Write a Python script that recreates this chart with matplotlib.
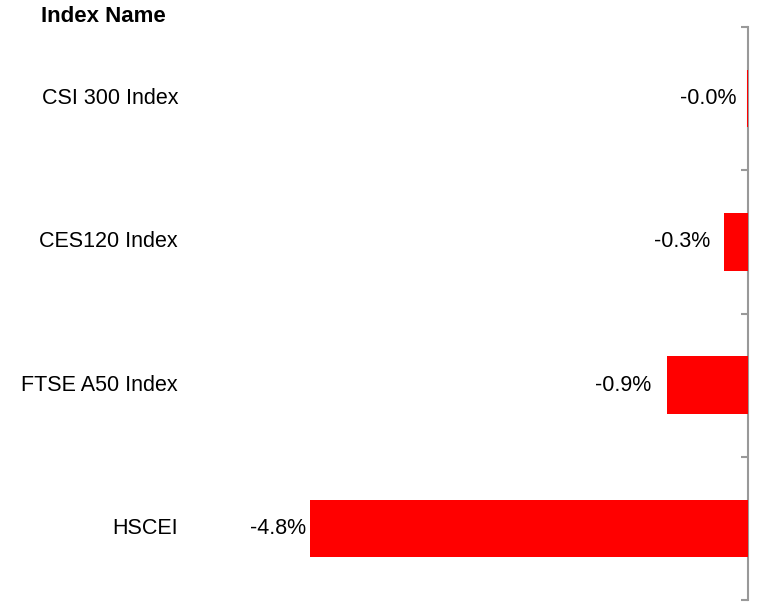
import matplotlib.pyplot as plt
from matplotlib.transforms import blended_transform_factory, offset_copy

# Data (% change)
names = ['CSI 300 Index', 'CES120 Index', 'FTSE A50 Index', 'HSCEI']
changes = [-0.01, -0.26, -0.89, -4.8]
header = 'Index Name'

# gap in pixels between each value label and its bar
label_pad = [11, 14, 15, 3]

plt.rcParams['font.family'] = ['Liberation Sans', 'DejaVu Sans']

fig = plt.figure(figsize=(7.77, 6.04), dpi=100)
# axes spans from x=200px to the spine at x=748px, y=27px to 600px
ax = fig.add_axes([200 / 777, 4 / 604, 548 / 777, 573 / 604])

pos = list(range(len(names)))
ax.barh(pos, changes, height=0.4, color='#ff0000', linewidth=0, zorder=3)

ax.set_xlim(-6.0, 0)
ax.set_ylim(len(names) - 0.5, -0.5)

# spine only on the right, category boundaries as ticks
for side in ['left', 'top', 'bottom']:
    ax.spines[side].set_visible(False)
ax.spines['right'].set_color('#999999')
ax.spines['right'].set_linewidth(1.5)
ax.spines['right'].set_zorder(1)
ax.set_xticks([])
ax.yaxis.tick_right()
ax.set_yticks([p - 0.5 for p in pos] + [len(names) - 0.5])
ax.tick_params(axis='y', direction='in', length=5, width=1.5,
               color='#999999', labelright=False)

# category names to the left of the plot area
name_tr = offset_copy(blended_transform_factory(ax.transAxes, ax.transData),
                      fig=fig, x=-22, y=0, units='dots')
for p, n in zip(pos, names):
    ax.text(0, p, n, transform=name_tr, ha='right', va='center', fontsize=15.5)

# value labels to the left of each bar
for p, v, pad in zip(pos, changes, label_pad):
    ax.annotate(f'{v:.1f}%', xy=(v, p), xytext=(-pad, 0),
                textcoords='offset pixels', ha='right', va='center',
                fontsize=15.5)

fig.text(103 / 777, 1 - 17 / 604, header, ha='center', va='center',
         fontsize=16, fontweight='bold')

fig.savefig('out.png', dpi=100)
